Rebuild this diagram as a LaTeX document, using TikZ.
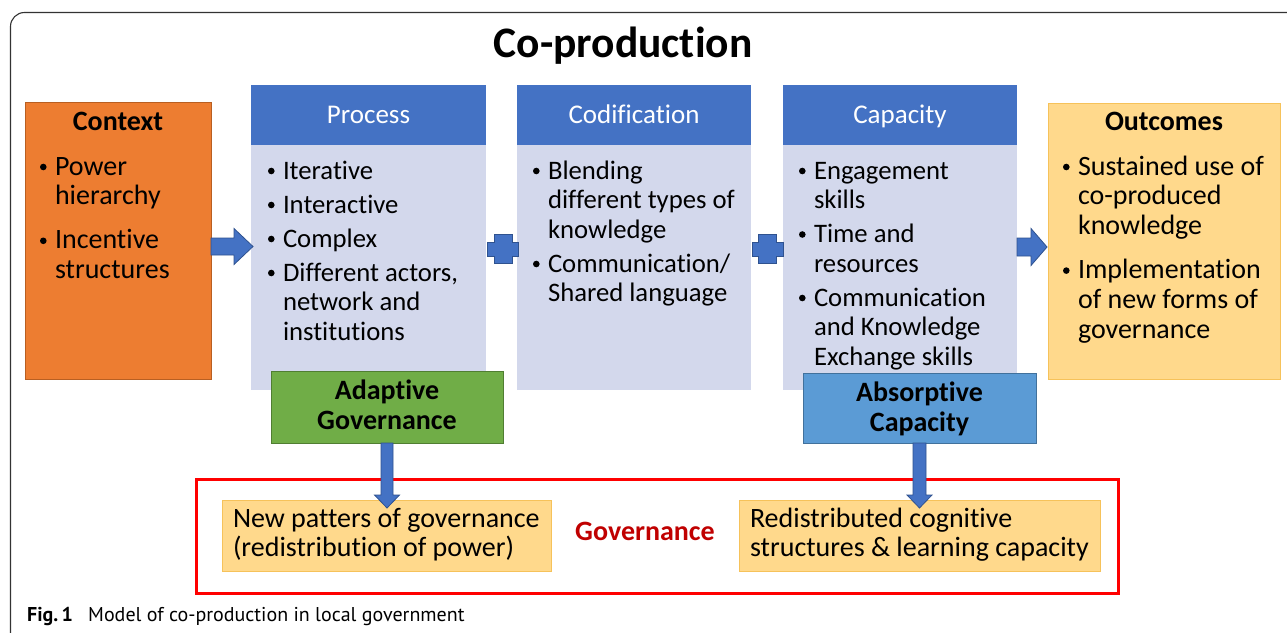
\documentclass[tikz,border=0pt]{standalone}
\usepackage{fontspec}
\setmainfont{Carlito}[Ligatures={NoCommon}]
\newfontfamily\capfont{PT Sans}
\usetikzlibrary{calc}
\definecolor{ctxorange}{HTML}{ED7D31}
\definecolor{ctxborder}{HTML}{B85F22}
\definecolor{hdrblue}{HTML}{4472C4}
\definecolor{bodyblue}{HTML}{D3D8EC}
\definecolor{outfill}{HTML}{FFD98C}
\definecolor{outborder}{HTML}{F6C25A}
\definecolor{adgreen}{HTML}{70AD47}
\definecolor{adborder}{HTML}{507E32}
\definecolor{abblue}{HTML}{5B9BD5}
\definecolor{abborder}{HTML}{41719C}
\definecolor{arrfill}{HTML}{4472C4}
\definecolor{arrborder}{HTML}{2F528F}
\definecolor{govred}{HTML}{C00000}
\definecolor{framered}{HTML}{FF0000}
\definecolor{framegray}{HTML}{333333}
\newcommand\bul{\makebox[15pt][l]{\tikz[baseline=0pt]\fill (3.4pt,8pt) circle[radius=3.3pt];}}
\begin{document}
\begin{tikzpicture}[x=1pt,y=-1pt,
  boxn/.style={rectangle, inner sep=0pt, outer sep=0pt, anchor=north west},
  txt/.style={inner sep=0pt, outer sep=0pt, font=\fontsize{26.7}{29.5}\selectfont},
  txtb/.style={inner sep=0pt, outer sep=0pt, font=\fontsize{28}{29.8}\selectfont},
  ttl/.style={inner sep=0pt, outer sep=0pt, anchor=base, font=\bfseries\fontsize{28}{30}\selectfont},
  hdr/.style={inner sep=0pt, outer sep=0pt, anchor=base, text=white, font=\fontsize{27}{29}\selectfont},
  blockarr/.style={fill=arrfill, draw=arrborder, line width=0.8pt, line join=miter}]
\useasboundingbox (0,0) rectangle (1287,632);
\fill[white] (0,0) rectangle (1287,632);
% outer frame
\draw[framegray, line width=1.1pt, rounded corners=14pt] (10.5,700) -- (10.5,12.5) -- (1320,12.5);
% title
\node[inner sep=0pt, anchor=base, font=\bfseries\fontsize{43.5}{48}\selectfont] (title) at (623,57) {Co-production};

% Context
\node[boxn, fill=ctxorange, draw=ctxborder, line width=1pt, minimum width=186, minimum height=277] (ctx) at (25,102) {};
\node[ttl] (ctxttl) at (118,130) {Context};
\node[txtb, anchor=base west] (ctxtxt) at (40,175) {\begin{tabular}[t]{@{}l@{}l@{}}\bul & Power\\ & hierarchy\\[14.2pt] \bul & Incentive\\ & structures\end{tabular}};

% Process
\node[boxn, fill=bodyblue, minimum width=235, minimum height=245] (procb) at (251,145) {};
\node[boxn, fill=hdrblue, minimum width=235, minimum height=60] (proch) at (251,85) {};
\node[hdr] (prochtxt) at (368.5,123) {Process};
\node[txt, anchor=base west] (proctxt) at (268,179) {\begin{tabular}[t]{@{}l@{}l@{}}\bul & Iterative\\[4.5pt] \bul & Interactive\\[4.5pt] \bul & Complex\\[4.5pt] \bul & Different actors,\\ & network and\\ & institutions\end{tabular}};

% Codification
\node[boxn, fill=bodyblue, minimum width=234, minimum height=245] (codb) at (517,145) {};
\node[boxn, fill=hdrblue, minimum width=234, minimum height=60] (codh) at (517,85) {};
\node[hdr] (codhtxt) at (634,123) {Codification};
\node[txt, anchor=base west] (codtxt) at (533,179) {\begin{tabular}[t]{@{}l@{}l@{}}\bul & Blending\\ & different types of\\ & knowledge\\[4.5pt] \bul & Communication/\\ & Shared language\end{tabular}};

% Capacity
\node[boxn, fill=bodyblue, minimum width=234, minimum height=245] (capb) at (783,145) {};
\node[boxn, fill=hdrblue, minimum width=234, minimum height=60] (caph) at (783,85) {};
\node[hdr] (caphtxt) at (900,123) {Capacity};
\node[txt, anchor=base west] (captxt) at (799,179) {\begin{tabular}[t]{@{}l@{}l@{}}\bul & Engagement\\ & skills\\[4.5pt] \bul & Time and\\ & resources\\[4.5pt] \bul & Communication\\ & and Knowledge\\ & Exchange skills\end{tabular}};

% Outcomes
\node[boxn, fill=outfill, draw=outborder, line width=1pt, minimum width=232, minimum height=276] (out) at (1048,103) {};
\node[ttl] (outttl) at (1164,130) {Outcomes};
\node[txtb, anchor=base west] (outtxt) at (1063,175) {\begin{tabular}[t]{@{}l@{}l@{}}\bul & Sustained use of\\ & co-produced\\ & knowledge\\[14.2pt] \bul & Implementation\\ & of new forms of\\ & governance\end{tabular}};

% right block arrows
\draw[blockarr] ($(ctx.east)+(0,-2.5)$) -- ++(23,0) -- ++(0,-9.5) -- ++(19,18) -- ++(-19,18) -- ++(0,-9.5) -- ++(-23,0) -- cycle;
\draw[blockarr] ($(capb.east)+(0,-29.5)$) -- ++(14,0) -- ++(0,-9.5) -- ++(16,18.5) -- ++(-16,18.5) -- ++(0,-9.5) -- ++(-14,0) -- cycle;

% plus signs
\coordinate (plusA) at (503,249);
\coordinate (plusB) at (767.5,249);
\foreach \c in {plusA,plusB}{
  \draw[blockarr] ($(\c)+(-9,-14.5)$) -- ++(18,0) -- ++(0,7.5) -- ++(6.5,0) -- ++(0,14) -- ++(-6.5,0) -- ++(0,7.5) -- ++(-18,0) -- ++(0,-7.5) -- ++(-6.5,0) -- ++(0,-14) -- ++(6.5,0) -- cycle;
}

% Adaptive / Absorptive
\node[boxn, fill=adgreen, draw=adborder, line width=1pt, minimum width=232, minimum height=72] (adapt) at (271,371) {};
\node[inner sep=0pt, anchor=base, font=\bfseries\fontsize{28}{30}\selectfont] (adapttxt) at (387,399) {\begin{tabular}[t]{@{}c@{}}Adaptive\\ Governance\end{tabular}};
\node[boxn, fill=abblue, draw=abborder, line width=1pt, minimum width=233, minimum height=70] (absorb) at (803,373) {};
\node[inner sep=0pt, anchor=base, font=\bfseries\fontsize{28}{30}\selectfont] (absorbtxt) at (919.5,401) {\begin{tabular}[t]{@{}c@{}}Absorptive\\ Capacity\end{tabular}};

% Governance frame
\node[boxn, draw=framered, line width=3pt, minimum width=922, minimum height=114] (gov) at (196,479) {};
\node[inner sep=0pt, anchor=base, text=govred, font=\bfseries\fontsize{28}{30}\selectfont] (govtxt) at (645,540) {Governance};
\node[boxn, fill=outfill, draw=outborder, line width=1pt, minimum width=329, minimum height=71] (yl) at (222,500) {};
\node[txtb, anchor=base west] (yltxt) at (233,527) {\begin{tabular}[t]{@{}l@{}}New patters of governance\\ (redistribution of power)\end{tabular}};
\node[boxn, fill=outfill, draw=outborder, line width=1pt, minimum width=361, minimum height=71] (yr) at (739,500) {};
\node[txtb, anchor=base west] (yrtxt) at (750,527) {\begin{tabular}[t]{@{}l@{}}Redistributed cognitive\\ structures \& learning capacity\end{tabular}};

% down block arrows
\draw[blockarr] ($(adapt.south)+(-6,0)$) -- ++(0,52) -- ++(-6.5,0) -- ++(12.5,13) -- ++(12.5,-13) -- ++(-6.5,0) -- ++(0,-52) -- cycle;
\draw[blockarr] ($(absorb.south)+(-6.5,0)$) -- ++(0,52) -- ++(-6,0) -- ++(12.5,13) -- ++(12.5,-13) -- ++(-6,0) -- ++(0,-52) -- cycle;

% caption
\node[inner sep=0pt, anchor=base west, font=\capfont\bfseries\fontsize{20}{22}\selectfont] (figlabel) at (27,621) {Fig.\,1};
\node[inner sep=0pt, anchor=base west, font=\capfont\fontsize{20}{22}\selectfont] (caption) at (88,621) {Model of co-production in local government};
\end{tikzpicture}
\end{document}
